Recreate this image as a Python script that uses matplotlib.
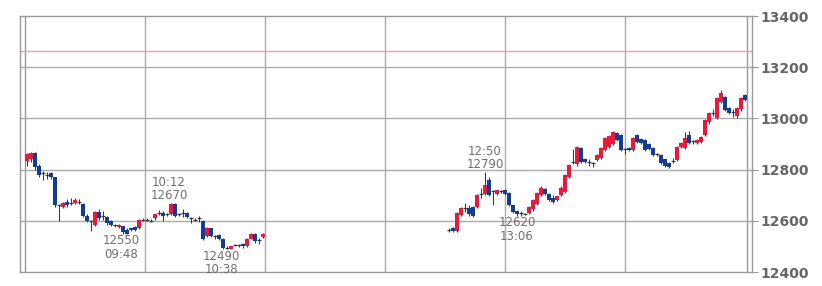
import numpy as np
import matplotlib
matplotlib.use('Agg')
import matplotlib.pyplot as plt

# minutes after 09:00 for each 2-minute candle
am_start = 1
pm_start = 212

am_open = [12835, 12840, 12865, 12815, 12785, 12780, 12785, 12770, 12660, 12655,
           12675, 12670, 12670, 12675, 12665, 12620, 12600, 12585, 12635, 12620,
           12615, 12600, 12585, 12575, 12578, 12565, 12570, 12575, 12570, 12605,
           12605, 12600, 12610, 12630, 12630, 12625, 12625, 12665, 12625, 12630,
           12630, 12612, 12605, 12610, 12600, 12540, 12570, 12540, 12545, 12530,
           12495, 12490, 12505, 12505, 12510, 12500, 12530, 12550, 12525, 12535]
am_close = [12860, 12865, 12810, 12780, 12785, 12780, 12770, 12660, 12660, 12670,
            12660, 12670, 12680, 12675, 12620, 12600, 12600, 12635, 12610, 12620,
            12590, 12585, 12580, 12585, 12555, 12550, 12565, 12565, 12605, 12605,
            12605, 12600, 12625, 12630, 12620, 12625, 12665, 12620, 12625, 12630,
            12615, 12612, 12605, 12610, 12530, 12570, 12540, 12540, 12530, 12495,
            12495, 12500, 12505, 12505, 12500, 12530, 12550, 12520, 12525, 12550]
am_high = [12865, 12868, 12868, 12820, 12795, 12790, 12790, 12772, 12665, 12675,
           12685, 12690, 12690, 12685, 12668, 12625, 12605, 12640, 12645, 12640,
           12620, 12605, 12588, 12588, 12580, 12570, 12572, 12578, 12608, 12610,
           12610, 12608, 12628, 12642, 12640, 12630, 12670, 12668, 12630, 12645,
           12635, 12615, 12610, 12620, 12605, 12575, 12572, 12545, 12548, 12532,
           12500, 12502, 12510, 12510, 12512, 12532, 12552, 12552, 12532, 12552]
am_low = [12815, 12830, 12800, 12770, 12760, 12765, 12765, 12655, 12600, 12650,
          12655, 12660, 12665, 12665, 12615, 12595, 12560, 12580, 12605, 12605,
          12585, 12580, 12575, 12572, 12550, 12550, 12560, 12560, 12568, 12598,
          12600, 12595, 12605, 12622, 12600, 12620, 12622, 12615, 12620, 12615,
          12610, 12590, 12598, 12595, 12525, 12535, 12535, 12530, 12525, 12490,
          12490, 12490, 12500, 12498, 12495, 12498, 12528, 12515, 12510, 12532]

pm_open = [12565, 12570, 12560, 12622, 12650, 12650, 12655, 12655, 12705, 12705,
           12760, 12715, 12705, 12715, 12720, 12710, 12660, 12640, 12630, 12628,
           12630, 12645, 12665, 12700, 12725, 12705, 12690, 12680, 12700, 12712,
           12770, 12830, 12820, 12884, 12840, 12830, 12825, 12838, 12845, 12877,
           12890, 12900, 12943, 12935, 12880, 12885, 12877, 12935, 12920, 12915,
           12900, 12885, 12860, 12857, 12840, 12825, 12835, 12837, 12890, 12885,
           12935, 12910, 12905, 12908, 12935, 12985, 13020, 13000, 13065, 13084,
           13040, 13025, 13010, 13035, 13090]
pm_close = [12565, 12562, 12630, 12650, 12650, 12625, 12620, 12700, 12705, 12740,
            12700, 12715, 12720, 12715, 12705, 12660, 12635, 12625, 12630, 12628,
            12655, 12680, 12710, 12730, 12705, 12680, 12675, 12695, 12730, 12780,
            12818, 12830, 12888, 12830, 12830, 12830, 12825, 12857, 12884, 12923,
            12930, 12947, 12915, 12877, 12880, 12878, 12923, 12908, 12905, 12877,
            12880, 12857, 12860, 12825, 12815, 12812, 12835, 12888, 12905, 12925,
            12905, 12910, 12915, 12927, 12994, 13020, 13020, 13080, 13100, 13033,
            13020, 13025, 13040, 13080, 13072]
pm_high = [12572, 12574, 12635, 12655, 12670, 12660, 12658, 12705, 12730, 12790,
           12770, 12720, 12722, 12720, 12724, 12712, 12662, 12642, 12640, 12632,
           12658, 12684, 12714, 12734, 12728, 12708, 12700, 12698, 12734, 12784,
           12822, 12880, 12892, 12888, 12844, 12840, 12830, 12860, 12888, 12926,
           12934, 12950, 12947, 12938, 12884, 12888, 12926, 12938, 12924, 12918,
           12904, 12888, 12864, 12860, 12842, 12828, 12845, 12892, 12908, 12945,
           12950, 12915, 12918, 12930, 12998, 13024, 13035, 13084, 13110, 13088,
           13044, 13035, 13044, 13084, 13094]
pm_low = [12555, 12558, 12556, 12618, 12635, 12620, 12615, 12650, 12690, 12700,
          12696, 12660, 12702, 12708, 12700, 12656, 12630, 12620, 12620, 12624,
          12626, 12640, 12660, 12696, 12700, 12676, 12670, 12676, 12696, 12708,
          12766, 12820, 12816, 12826, 12826, 12815, 12810, 12834, 12840, 12872,
          12886, 12896, 12910, 12872, 12860, 12874, 12872, 12904, 12900, 12872,
          12876, 12852, 12852, 12820, 12810, 12805, 12825, 12832, 12886, 12880,
          12900, 12900, 12900, 12904, 12930, 12980, 13010, 12996, 13060, 13028,
          13016, 13005, 13000, 13030, 13068]

# labels on highs and lows: (time text, price, above?)
ann_time = ['09:48', '10:12', '10:38', '12:50', '13:06']
ann_price = [12550, 12670, 12490, 12790, 12620]
ann_above = [False, True, False, True, False]

ref_level = 13264
yticks = [12400, 12600, 12800, 13000, 13200, 13400]

up_color = '#e8193c'
down_color = '#123c96'
wick_color = '#3a3a3a'

fig = plt.figure(figsize=(8.22, 2.86), dpi=100)
ax = fig.add_axes([20 / 822, 14 / 286, 732 / 822, 256 / 286])


def draw(t0, o, h, l, c):
    for i in range(len(o)):
        t = t0 + 2 * i
        ax.vlines(t, l[i], h[i], color=wick_color, lw=0.75, zorder=3)
        if o[i] == c[i]:
            ax.hlines(c[i], t - 0.9, t + 0.9, color=wick_color, lw=0.9, zorder=4)
        else:
            col = up_color if c[i] > o[i] else down_color
            ax.bar(t, abs(c[i] - o[i]), bottom=min(o[i], c[i]), width=1.8,
                   color=col, linewidth=0, zorder=4)


draw(am_start, am_open, am_high, am_low, am_close)
draw(pm_start, pm_open, pm_high, pm_low, pm_close)

# grid
for t in [60, 120, 180, 240, 300]:
    ax.axvline(t, color='#aaaaaa', lw=1, zorder=1)
for t in [0, 361]:
    ax.axvline(t, color='#999999', lw=1, zorder=1)
for p in yticks[1:-1]:
    ax.axhline(p, color='#aaaaaa', lw=1, zorder=1)
ax.axhline(ref_level, color='#f0a0a0', lw=1, zorder=2)

for tm, p, up in zip(ann_time, ann_price, ann_above):
    hh, mm = tm.split(':')
    t = (int(hh) - 9) * 60 + int(mm)
    txt = f'{tm}\n{p}' if up else f'{p}\n{tm}'
    ax.annotate(txt, xy=(t, p), xytext=(0, 14 if up else -14),
                textcoords='offset pixels', ha='center', va='center',
                fontsize=8.5, color='#707070', linespacing=1.05, zorder=5)

ax.set_xlim(-2.5, 363.5)
ax.set_ylim(12400, 13400)
ax.set_xticks([])
ax.yaxis.tick_right()
ax.set_yticks(yticks)
ax.set_yticklabels([str(v) for v in yticks], fontsize=10, fontweight='bold',
                   color='#666666')
ax.tick_params(axis='y', length=4.5, width=0.8, color='#999999', pad=1.5)
for s in ax.spines.values():
    s.set_color('#999999')
    s.set_linewidth(1)

fig.savefig('out.png', dpi=100)
